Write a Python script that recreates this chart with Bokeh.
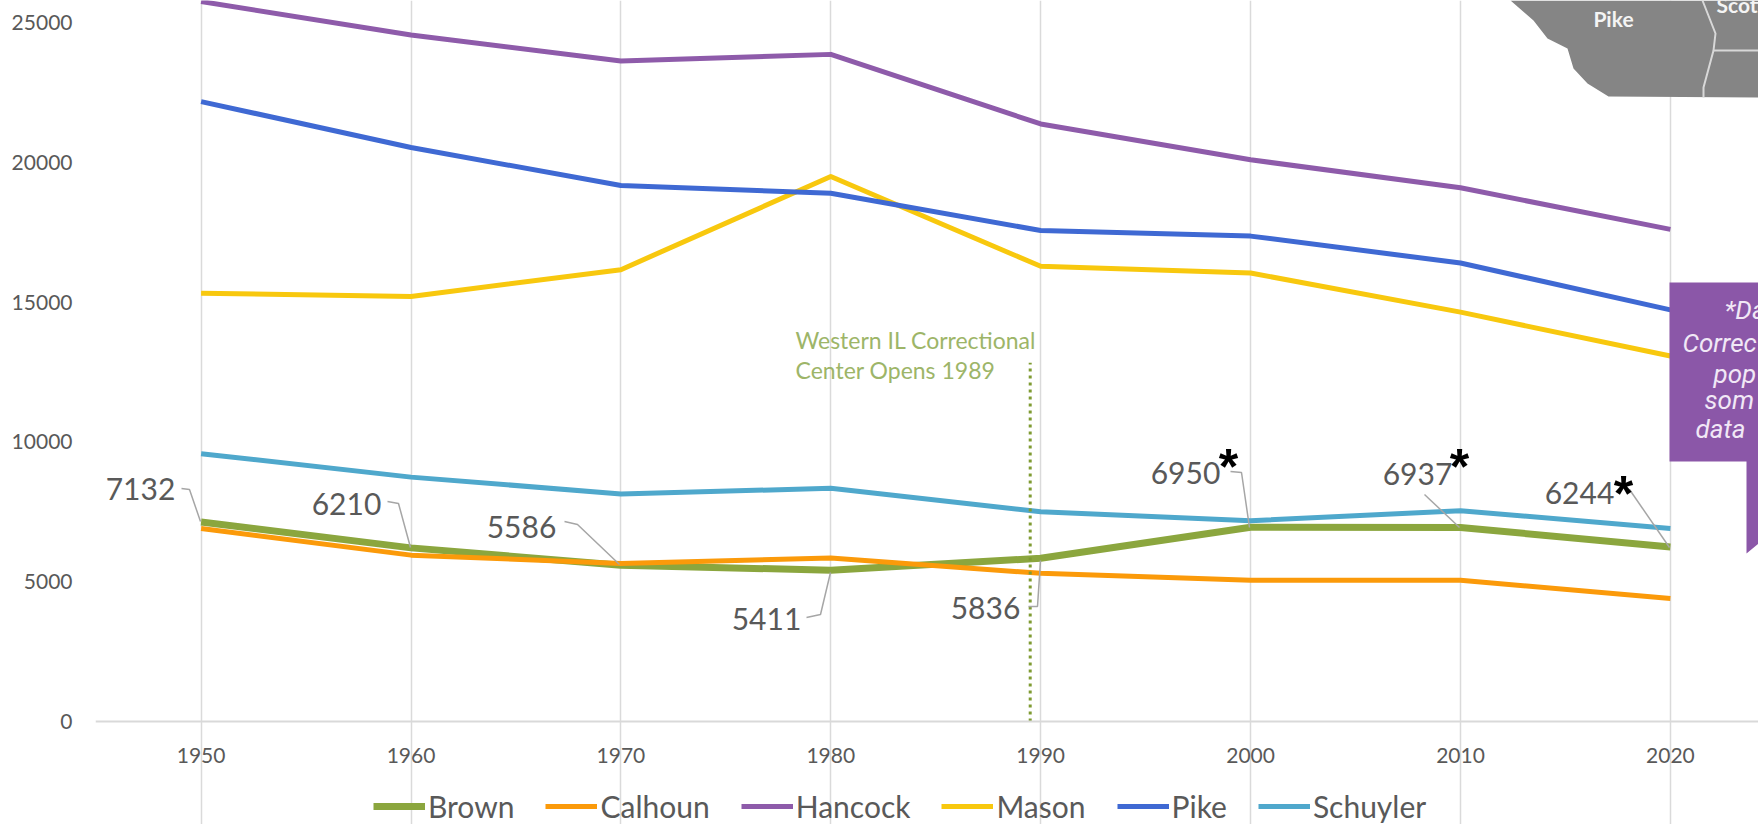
from bokeh.plotting import figure
from bokeh.models import Range1d, Label, Legend, LegendItem, FixedTicker
from bokeh.embed import file_html
from bokeh.resources import INLINE

years = [1950, 1960, 1970, 1980, 1990, 2000, 2010, 2020]
brown = [7132, 6210, 5586, 5411, 5836, 6950, 6937, 6244]
calhoun = [6900, 5950, 5650, 5850, 5300, 5050, 5050, 4400]
hancock = [25750, 24550, 23620, 23860, 21370, 20090, 19090, 17600]
mason = [15320, 15200, 16160, 19490, 16280, 16040, 14640, 13070]
pike = [22170, 20530, 19170, 18890, 17560, 17360, 16400, 14720]
schuyler = [9580, 8740, 8140, 8340, 7500, 7180, 7540, 6900]
names = ["Brown", "Calhoun", "Hancock", "Mason", "Pike", "Schuyler"]
yticks = [0, 5000, 10000, 15000, 20000, 25000]
opening_year = 1989.5
opening_top = 12830

series = [brown, calhoun, hancock, mason, pike, schuyler]
colors = ["#8BA63E", "#FB9A0A", "#8E5BAA", "#F8C80E", "#3F69D3", "#4FA8CC"]
widths = [7, 5, 5, 5, 5, 5]

W, H = 1758, 824
FL, FB = 95, 721       # frame left / zero line, in page px
PXY = 20.99            # px per year
PXV = 0.02796          # px per person
X0 = 200.6


def X(px):
    return 1950 + (px - X0) / PXY


def Y(py):
    return (FB - py) / PXV


p = figure(width=W, height=H, output_backend="svg", toolbar_location=None,
           x_range=Range1d(X(FL), X(W)), y_range=Range1d(Y(H), Y(0)),
           min_border_left=FL, min_border_right=0, min_border_top=0,
           min_border_bottom=0, outline_line_color=None,
           background_fill_color="white", border_fill_color="white")

p.xaxis.fixed_location = 0
p.xaxis.ticker = FixedTicker(ticks=years)
p.yaxis.ticker = FixedTicker(ticks=yticks)
p.xaxis.major_label_overrides = {y: str(y) for y in years}
p.yaxis.major_label_overrides = {v: str(v) for v in yticks}
for ax in (p.xaxis[0], p.yaxis[0]):
    ax.major_tick_line_color = None
    ax.minor_tick_line_color = None
    ax.major_label_text_color = "#595959"
    ax.major_label_text_font = "Lato"
    ax.major_label_text_font_size = "21px"
p.yaxis.axis_line_color = None
p.yaxis.major_label_standoff = 17
p.xaxis.major_label_standoff = 20
p.xaxis.axis_line_color = "#D9D9D9"
p.xaxis.axis_line_width = 2
p.ygrid.visible = False
p.xgrid.grid_line_color = "#DADADA"
p.xgrid.grid_line_width = 1.5
p.xgrid.bounds = (0, Y(0))

# map fragment, top right
map_x = [1510, 1533, 1547, 1567, 1573, 1587, 1608, 1758, 1758, 1510]
map_y = [0, 20, 38, 48, 68, 83, 96, 97, 0, 0]
p.patch([X(v) for v in map_x], [Y(v) for v in map_y], color="#858585", line_color=None)
p.multi_line([[X(v) for v in [1702, 1715, 1713, 1703, 1703]], [X(1713), X(1758)]],
             [[Y(v) for v in [0, 33, 50, 87, 97]], [Y(50), Y(50)]],
             line_color="#D8D8D8", line_width=2)

# series
items = []
for name, vals, c, w in zip(names, series, colors, widths):
    r = p.line(years, vals, line_color=c, line_width=w, line_join="round")
    items.append(LegendItem(label=name, renderers=[r]))

# opening marker
p.line([opening_year, opening_year], [0, opening_top], line_color="#7F9B32",
       line_width=3, line_dash="3 4")

# purple callout
box_x = [1669, 1758, 1758, 1746, 1746, 1669]
box_y = [282, 282, 543, 553, 461, 461]
p.patch([X(v) for v in box_x], [Y(v) for v in box_y], color="#8B57A8", line_color=None)


def add_text(txt, px, py, size, color="#595959", font="Lato", align="left",
             baseline="middle", style="normal"):
    p.add_layout(Label(x=X(px), y=Y(py), text=txt, text_font=font,
                       text_font_size=f"{size}px", text_color=color, text_align=align,
                       text_baseline=baseline, text_font_style=style))


for t, px, py in [("*Da", 1724, 309), ("Correc", 1682, 342), ("pop", 1713, 373),
                  ("som", 1704, 399), ("data", 1695, 428)]:
    add_text(t, px, py, 26, color="#F1E8F6", font="Roboto", style="italic")

add_text("Pike", 1613, 18, 21, color="#F4F4F4", align="center", style="bold")
add_text("Scott", 1716, 4, 21, color="#F4F4F4", style="bold")

add_text("Western IL Correctional", 795, 339, 23, color="#9DB568")
add_text("Center Opens 1989", 795, 369, 23, color="#9DB568")

# data labels for Brown: label text, text centre and leader path in page px
label_spec = [
    (brown[0], 140, 488, [(181, 488), (189, 489), (200, 521)]),
    (brown[1], 346, 503, [(387, 501), (398, 503), (410, 547)]),
    (brown[2], 521, 526, [(564, 521), (577, 524), (619, 564)]),
    (brown[3], 766, 618, [(806, 617), (820, 614), (830, 572)]),
    (brown[4], 985, 607, [(1028, 606), (1037, 606), (1040, 560)]),
    (brown[5], 1185, 472, [(1230, 471), (1241, 472), (1249, 527)]),
    (brown[6], 1417, 473, [(1424, 494), (1459, 527)]),
    (brown[7], 1579, 492, [(1629, 489), (1669, 547)]),
]
for v, tx, ty, path in label_spec:
    add_text(str(v), tx, ty, 30, align="center")
    p.line([X(a) for a, b in path], [Y(b) for a, b in path], line_color="#A6A6A6", line_width=1.5)

for sx, sy in [(1228, 466), (1459, 466), (1623, 493)]:
    add_text("*", sx, sy, 50, color="#000000", align="center", font="Liberation Sans",
             style="bold", baseline="alphabetic")

legend = Legend(items=items, orientation="horizontal", location=(278, 0),
                glyph_width=52, glyph_height=20, label_standoff=3, spacing=31, padding=0, margin=0,
                background_fill_alpha=0, border_line_color=None,
                label_text_font="Lato", label_text_font_size="30px", label_text_color="#595959")
p.add_layout(legend, "center")

open("out.html", "w").write(file_html(p, INLINE))
